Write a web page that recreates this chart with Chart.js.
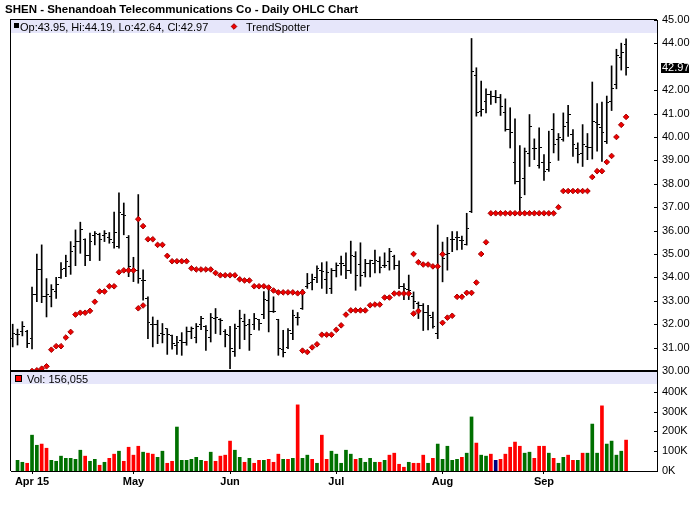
<!DOCTYPE html>
<html><head><meta charset="utf-8">
<script src="https://cdn.jsdelivr.net/npm/chart.js@4.4.0/dist/chart.umd.min.js"></script>
<style>
html,body{margin:0;padding:0;background:#fff;}
#wrap{position:relative;width:700px;height:512px;overflow:hidden;background:#fff;}
canvas{position:absolute;left:0;}
#c1{top:0;}
#c2{top:352px;}
</style></head><body>
<div id="wrap"><canvas id="c1" width="700" height="390"></canvas><canvas id="c2" width="700" height="160"></canvas></div>
<script>
const dates = [
'2015-03-26','2015-03-27','2015-03-30','2015-03-31',
'2015-04-01','2015-04-02','2015-04-06','2015-04-07','2015-04-08','2015-04-09','2015-04-10','2015-04-13','2015-04-14','2015-04-15','2015-04-16','2015-04-17','2015-04-20','2015-04-21','2015-04-22','2015-04-23','2015-04-24','2015-04-27','2015-04-28','2015-04-29','2015-04-30',
'2015-05-01','2015-05-04','2015-05-05','2015-05-06','2015-05-07','2015-05-08','2015-05-11','2015-05-12','2015-05-13','2015-05-14','2015-05-15','2015-05-18','2015-05-19','2015-05-20','2015-05-21','2015-05-22','2015-05-26','2015-05-27','2015-05-28','2015-05-29',
'2015-06-01','2015-06-02','2015-06-03','2015-06-04','2015-06-05','2015-06-08','2015-06-09','2015-06-10','2015-06-11','2015-06-12','2015-06-15','2015-06-16','2015-06-17','2015-06-18','2015-06-19','2015-06-22','2015-06-23','2015-06-24','2015-06-25','2015-06-26','2015-06-29','2015-06-30',
'2015-07-01','2015-07-02','2015-07-06','2015-07-07','2015-07-08','2015-07-09','2015-07-10','2015-07-13','2015-07-14','2015-07-15','2015-07-16','2015-07-17','2015-07-20','2015-07-21','2015-07-22','2015-07-23','2015-07-24','2015-07-27','2015-07-28','2015-07-29','2015-07-30','2015-07-31',
'2015-08-03','2015-08-04','2015-08-05','2015-08-06','2015-08-07','2015-08-10','2015-08-11','2015-08-12','2015-08-13','2015-08-14','2015-08-17','2015-08-18','2015-08-19','2015-08-20','2015-08-21','2015-08-24','2015-08-25','2015-08-26','2015-08-27','2015-08-28','2015-08-31',
'2015-09-01','2015-09-02','2015-09-03','2015-09-04','2015-09-08','2015-09-09','2015-09-10','2015-09-11','2015-09-14','2015-09-15','2015-09-16','2015-09-17','2015-09-18','2015-09-21','2015-09-22','2015-09-23','2015-09-24','2015-09-25'
];

const opens = [
31.40,31.57,31.70,31.70,31.38,33.25,34.32,33.20,33.20,33.40,
34.00,34.40,34.46,35.30,35.53,35.60,34.95,35.80,35.85,35.80,
35.70,35.50,35.30,36.70,35.70,34.30,34.30,33.85,33.10,32.00,
32.00,31.60,31.80,31.50,31.10,31.30,31.20,31.70,31.43,32.00,
31.90,31.45,32.24,32.20,31.70,31.50,30.85,31.90,32.10,32.00,
32.00,32.20,32.40,33.00,32.56,32.20,30.90,31.00,31.60,32.30,
32.67,33.60,33.80,34.00,34.30,33.90,33.52,34.30,34.60,34.50,
34.30,34.90,34.57,34.20,34.60,34.60,34.70,34.50,34.70,34.90,
34.50,33.60,33.50,33.20,32.90,32.80,32.50,32.30,31.59,34.99,
35.00,35.60,35.70,35.57,35.40,36.80,42.61,41.10,41.50,41.80,
41.75,41.70,41.03,40.30,38.89,38.10,38.24,39.30,39.50,38.80,
38.90,38.60,40.32,39.90,39.90,40.60,40.10,39.50,39.30,39.60,
39.57,40.60,40.40,39.80,41.50,42.25,43.39,43.95];

const highs = [
32.00,31.79,32.11,31.74,33.59,35.00,35.39,33.95,33.69,34.00,
34.63,34.95,35.53,36.03,36.36,35.65,35.89,35.96,35.89,36.00,
35.92,36.79,37.61,37.18,35.79,34.86,37.54,34.32,33.17,32.31,
32.17,32.03,31.81,31.53,31.48,31.64,31.88,31.88,32.03,32.34,
31.94,32.46,32.67,32.24,31.77,31.91,32.00,32.60,32.43,32.21,
32.46,32.21,33.39,33.57,33.17,32.21,31.74,31.81,32.60,32.50,
33.49,34.17,34.14,34.49,34.63,34.67,34.38,34.62,34.91,35.05,
35.55,35.10,35.48,34.77,34.74,35.17,34.88,35.05,35.24,34.95,
34.71,33.74,34.10,33.38,32.95,32.88,32.81,32.52,36.24,35.51,
35.71,35.96,35.96,35.77,36.74,44.21,42.96,42.39,42.06,41.96,
41.99,41.82,41.63,41.25,40.78,39.63,39.53,40.96,39.92,40.39,
39.25,40.25,41.00,40.15,41.03,41.35,40.32,39.75,40.53,40.15,
42.35,41.43,41.49,41.75,43.04,43.75,44.01,44.19];

const lows = [
31.03,31.11,31.50,31.00,30.94,32.96,32.92,32.31,32.74,33.10,
33.96,34.03,34.13,34.50,35.03,34.50,34.72,35.39,34.72,35.53,
35.46,35.25,35.25,35.82,34.03,33.82,33.75,33.03,31.38,31.03,
31.17,31.20,30.71,30.93,30.71,30.67,31.10,31.38,31.20,31.77,
30.88,31.24,31.60,31.55,31.03,30.10,30.62,30.95,31.34,30.88,
31.77,31.74,32.24,31.67,32.50,30.67,30.60,30.95,31.34,31.96,
32.63,33.53,33.46,33.77,33.53,33.31,33.31,34.02,34.10,33.95,
34.17,33.45,33.62,34.02,34.02,34.19,34.19,34.42,34.31,34.34,
33.52,33.05,33.05,32.66,32.24,31.73,31.76,31.83,31.38,33.81,
34.31,35.10,35.17,35.20,35.38,36.77,40.89,40.89,41.03,41.39,
41.46,40.92,40.25,39.53,38.00,36.77,37.53,38.74,39.03,38.67,
38.14,38.53,39.32,39.00,39.82,40.03,39.17,38.89,38.74,39.03,
39.06,39.39,38.96,39.72,41.13,42.06,42.86,42.64];

const closes = [
31.60,31.57,31.89,31.17,33.25,34.32,33.17,33.25,33.50,33.69,
34.32,34.68,35.09,35.53,36.06,34.92,35.53,35.86,35.60,35.89,
35.60,35.90,36.79,36.63,34.46,34.32,33.95,33.87,32.06,32.00,
31.53,31.57,31.57,31.17,31.20,31.20,31.67,31.81,31.91,32.24,
31.74,32.30,32.30,32.17,31.55,30.98,31.80,32.24,31.96,31.57,
32.24,32.03,33.06,32.56,32.56,30.95,30.81,31.74,32.39,32.28,
33.30,33.74,33.89,34.39,34.27,34.21,34.31,34.52,34.60,34.28,
34.95,34.10,34.10,34.60,34.71,34.74,34.42,34.52,35.10,34.52,
33.62,33.52,33.45,32.95,32.81,32.48,32.38,31.91,34.45,34.81,
35.02,35.63,35.71,35.57,36.10,42.78,41.03,41.18,41.82,41.75,
41.68,41.32,40.32,40.20,38.10,37.43,39.39,40.43,39.49,39.53,
38.53,38.92,39.67,39.96,40.46,40.96,39.67,39.25,39.67,39.57,
40.68,40.53,40.20,41.49,42.06,43.49,43.61,42.97];

const trendSpotter = [
null,null,null,null,30.00,30.03,30.10,30.20,30.91,31.06,
31.06,31.43,31.67,32.41,32.49,32.49,32.57,32.96,33.40,33.40,
33.62,33.62,34.22,34.30,34.30,34.30,36.49,36.19,35.63,35.63,
35.39,35.39,34.92,34.69,34.69,34.69,34.69,34.39,34.34,34.34,
34.34,34.34,34.19,34.09,34.09,34.09,34.09,33.92,33.87,33.87,
33.62,33.62,33.62,33.57,33.44,33.36,33.36,33.36,33.36,33.32,
33.36,30.81,31.01,31.14,31.55,31.55,31.55,31.76,31.95,32.41,
32.59,32.59,32.59,32.59,32.81,32.84,32.84,33.14,33.14,33.31,
33.31,33.31,33.31,35.00,34.65,34.55,34.55,34.47,34.47,34.99,
32.28,32.36,33.17,33.17,33.34,33.34,33.78,35.00,35.50,36.74,
36.74,36.74,36.74,36.74,36.74,36.74,36.74,36.74,36.74,36.74,
36.74,36.74,36.74,37.00,37.69,37.69,37.69,37.69,37.69,37.69,
38.29,38.54,38.54,38.93,39.19,40.00,40.52,40.86];

const trendExtraDates = ['2015-05-04','2015-05-05','2015-06-22','2015-07-24','2015-07-27','2015-08-03'];
const trendExtraValues = [32.68, 32.80, 30.87, 32.45, 32.56, 32.06];

const volumes = [
null,54000,44000,39000,181000,130000,136000,115000,54000,49000,
75000,64000,64000,59000,105000,75000,49000,59000,29000,44000,
64000,85000,100000,49000,120000,80000,125000,95000,90000,85000,
69000,100000,39000,49000,222000,54000,54000,59000,69000,54000,
49000,95000,49000,75000,80000,151000,105000,69000,44000,64000,
39000,54000,54000,59000,44000,85000,59000,59000,64000,334000,
64000,80000,59000,39000,181000,59000,100000,85000,39000,105000,
85000,59000,64000,44000,64000,44000,44000,54000,80000,90000,
34000,19000,44000,39000,39000,80000,39000,64000,136000,59000,
125000,54000,59000,69000,90000,273000,141000,80000,75000,85000,
54000,59000,85000,120000,146000,125000,90000,95000,64000,125000,
125000,90000,64000,39000,69000,80000,54000,54000,90000,90000,
237000,90000,329000,136000,151000,80000,100000,156055];

// volume bar direction: g = up, r = down, b = unchanged
const volDir = ('-ggrggrrgg' + 'gggggrggrg' + 'rrgrrrrgrr' + 'ggrrgggggg' + 'rgrrrrggrg' +
  'rrgrrrgrgr' + 'ggrgrrgggg' + 'grggggrgrr' + 'rrgrrrgrgg' + 'gggrggrggr' +
  'brrrrrggrr' + 'rgrggrrgrg' + 'ggrggggr').split('');

const tickDates = ['2015-04-01','2015-05-01','2015-06-01','2015-07-01','2015-08-03','2015-09-01'];
const tickLabels = ['Apr 15','May','Jun','Jul','Aug','Sep'];
const priceTicks = [30,31,32,33,34,35,36,37,38,39,40,41,42,44,45];
const volTicks = [0,100000,200000,300000,400000];

const titleText = 'SHEN - Shenandoah Telecommunications Co - Daily OHLC Chart';
const trendName = 'TrendSpotter';

// ---------------- rendering ----------------
const FONT = '"Liberation Sans", Arial, Helvetica, sans-serif';
const X_MIN = -0.352, X_MAX = 133.4;
const last = dates.length - 1;
const tickIdx = tickDates.map(d => dates.indexOf(d));
const dirColor = {g: '#007000', r: '#ff0000', b: '#000080', '-': '#007000'};
const TREND_FILL = '#f00000', TREND_EDGE = '#a00000';
const BAND = '#e6e6fa';

function tickImg(side) {
  const c = document.createElement('canvas');
  c.width = 5; c.height = 1;
  const g = c.getContext('2d');
  g.fillStyle = '#000';
  g.fillRect(side < 0 ? 0 : 3, 0, 2, 1);
  return c;
}
function fmtNum(v) { return v.toString().replace(/\B(?=(\d{3})+(?!\d))/g, ','); }
function drawDiamond(ctx, x, y, r) {
  ctx.beginPath();
  ctx.moveTo(x - r, y); ctx.lineTo(x, y - r); ctx.lineTo(x + r, y); ctx.lineTo(x, y + r);
  ctx.closePath();
  ctx.fillStyle = TREND_FILL; ctx.fill();
  ctx.lineWidth = 1; ctx.strokeStyle = TREND_EDGE; ctx.stroke();
}
function inwardTicks(ctx, scale, area) {
  ctx.fillStyle = '#000';
  scale.ticks.forEach(t => {
    const y = Math.round(scale.getPixelForValue(t.value));
    ctx.fillRect(area.right - 3, y, 3, 1);
  });
}

const ohlcRange = dates.map((d, i) => ({x: i, y: [lows[i], highs[i]]}));
const openPts = dates.map((d, i) => ({x: i, y: opens[i]}));
const closePts = dates.map((d, i) => ({x: i, y: closes[i]}));
const trendPts = dates.map((d, i) => ({x: i, y: trendSpotter[i]})).filter(p => p.y !== null)
  .concat(trendExtraDates.map((d, k) => ({x: dates.indexOf(d), y: trendExtraValues[k]})));

const decorMain = {
  id: 'decorMain',
  beforeDatasetsDraw(chart) {
    const {ctx, chartArea: a} = chart;
    ctx.save();
    ctx.fillStyle = BAND;
    ctx.fillRect(a.left, a.top, a.right - a.left, 13);
    ctx.fillStyle = '#000';
    ctx.fillRect(a.left - 1, a.top - 1, a.right - a.left + 1, 1);
    ctx.fillRect(a.left - 1, a.top - 1, 1, a.bottom - a.top + 1);
    ctx.restore();
  },
  afterDraw(chart) {
    const {ctx, chartArea: a} = chart;
    const ys = chart.scales.y;
    ctx.save();
    // title
    ctx.fillStyle = '#000';
    ctx.font = 'bold 11.5px ' + FONT;
    ctx.textBaseline = 'alphabetic';
    ctx.textAlign = 'left';
    ctx.fillText(titleText, 5, 13);
    // legend
    ctx.fillRect(a.left + 3, a.top + 3, 5, 5);
    ctx.font = '11px ' + FONT;
    ctx.fillText('Op:' + opens[last].toFixed(2) + ', Hi:' + highs[last].toFixed(2) +
      ', Lo:' + lows[last].toFixed(2) + ', Cl:' + closes[last].toFixed(2), a.left + 9, a.top + 11);
    drawDiamond(ctx, 234, a.top + 6.5, 2.8);
    ctx.fillStyle = '#000';
    ctx.fillText(trendName, 246, a.top + 11);
    // inward ticks
    inwardTicks(ctx, ys, a);
    // last price tag
    const py = ys.getPixelForValue(closes[last]);
    ctx.fillStyle = '#000';
    ctx.fillRect(a.right + 4, Math.round(py) - 5, 28, 10);
    ctx.fillStyle = '#fff';
    ctx.textBaseline = 'middle';
    ctx.fillText(closes[last].toFixed(2), a.right + 5, py);
    ctx.restore();
  }
};

new Chart(document.getElementById('c1'), {
  type: 'bar',
  data: {datasets: [
    {type: 'bar', data: ohlcRange, backgroundColor: '#000', barThickness: 1, order: 3},
    {type: 'scatter', data: openPts, pointStyle: tickImg(-1), pointRadius: 1, order: 2},
    {type: 'scatter', data: closePts, pointStyle: tickImg(1), pointRadius: 1, order: 2},
    {type: 'scatter', data: trendPts, pointStyle: 'rectRot', pointRadius: 2.8,
     backgroundColor: TREND_FILL, borderColor: TREND_EDGE, borderWidth: 1, order: 1}
  ]},
  options: {
    responsive: false, animation: false, events: [],
    layout: {padding: {left: 11, top: 20, right: 0, bottom: 19}},
    plugins: {legend: {display: false}, tooltip: {enabled: false}},
    scales: {
      x: {type: 'linear', min: X_MIN, max: X_MAX, offset: false, display: false, grid: {offset: false}},
      y: {type: 'linear', position: 'right', min: 30, max: 45,
          afterBuildTicks: s => { s.ticks = priceTicks.map(v => ({value: v})); },
          afterFit: s => { s.width = 43; },
          grid: {display: false, drawTicks: false, tickLength: 0},
          border: {display: true, color: '#000', width: 1},
          ticks: {color: '#000', font: {family: FONT, size: 11}, padding: 5, callback: v => Number(v).toFixed(2)}}
    }
  },
  plugins: [decorMain]
});

const decorVol = {
  id: 'decorVol',
  beforeDatasetsDraw(chart) {
    const {ctx, chartArea: a} = chart;
    ctx.save();
    ctx.fillStyle = BAND;
    ctx.fillRect(a.left, a.top + 1, a.right - a.left, 12);
    ctx.fillStyle = '#000';
    ctx.fillRect(a.left - 1, a.top - 1, a.right - a.left + 2, 2);
    ctx.fillRect(a.left - 1, a.top - 1, 1, a.bottom - a.top + 1);
    ctx.restore();
  },
  afterDraw(chart) {
    const {ctx, chartArea: a} = chart;
    ctx.save();
    ctx.fillStyle = '#ff0000';
    ctx.fillRect(a.left + 4.5, a.top + 4.5, 6, 6);
    ctx.strokeStyle = '#000'; ctx.lineWidth = 1;
    ctx.strokeRect(a.left + 4.5, a.top + 4.5, 6, 6);
    ctx.fillStyle = '#000';
    ctx.font = '11px ' + FONT;
    ctx.textBaseline = 'alphabetic';
    ctx.fillText('Vol: ' + fmtNum(volumes[last]), a.left + 16, a.top + 11.5);
    inwardTicks(ctx, chart.scales.y, a);
    ctx.restore();
  }
};

new Chart(document.getElementById('c2'), {
  type: 'bar',
  data: {datasets: [{
    data: volumes.map((v, i) => ({x: i, y: v})),
    backgroundColor: volDir.map(c => dirColor[c]),
    barThickness: 3
  }]},
  options: {
    responsive: false, animation: false, events: [],
    layout: {padding: {left: 11, top: 19, right: 0, bottom: 0}},
    plugins: {legend: {display: false}, tooltip: {enabled: false}},
    scales: {
      x: {type: 'linear', min: X_MIN, max: X_MAX, offset: false, position: 'bottom',
          afterBuildTicks: s => { s.ticks = tickIdx.map(v => ({value: v})); },
          afterFit: s => { s.height = 41; },
          grid: {display: true, drawOnChartArea: false, tickLength: 3, color: '#000', offset: false},
          border: {display: true, color: '#000', width: 1},
          ticks: {autoSkip: false, maxRotation: 0, color: '#000', padding: 1,
                  font: {family: FONT, size: 11, weight: 'bold'},
                  callback: (v, i) => tickLabels[i]}},
      y: {type: 'linear', position: 'right', min: 0, max: 505000,
          afterBuildTicks: s => { s.ticks = volTicks.map(v => ({value: v})); },
          afterFit: s => { s.width = 43; },
          grid: {display: false, drawTicks: false, tickLength: 0},
          border: {display: true, color: '#000', width: 1},
          ticks: {color: '#000', font: {family: FONT, size: 11}, padding: 5, callback: v => (v / 1000) + 'K'}}
    }
  },
  plugins: [decorVol]
});
</script>
</body></html>
